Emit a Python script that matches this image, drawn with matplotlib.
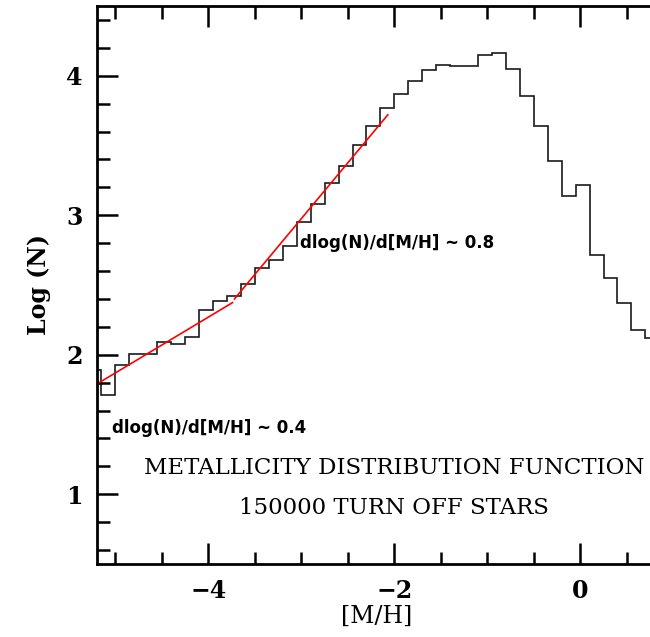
import numpy as np
import matplotlib.pyplot as plt
from matplotlib.ticker import MultipleLocator, FixedLocator

# Histogram bins in [M/H] (width 0.15 dex) and log of star counts per bin
bin_start = -5.3
bin_width = 0.15
log_n = [1.89, 1.71, 1.93, 2.005, 2.005, 2.09, 2.08, 2.13, 2.32, 2.385,
         2.42, 2.51, 2.62, 2.68, 2.78, 2.95, 3.08, 3.23, 3.35, 3.50,
         3.64, 3.77, 3.87, 3.96, 4.04, 4.08, 4.07, 4.07, 4.15, 4.16,
         4.05, 3.855, 3.64, 3.39, 3.14, 3.22, 2.715, 2.55, 2.37, 2.18,
         2.12]

# Linear fits: (x start, x end, intercept, slope)
fit_low = (-5.2, -3.74, 3.87, 0.4)
fit_high = (-3.72, -2.07, 5.376, 0.8)

edges = bin_start + bin_width * np.arange(len(log_n) + 1)

fig = plt.figure(figsize=(6.5, 6.37), dpi=100)
ax = fig.add_axes([0.149, 0.1146, 0.861, 0.876])

ax.stairs(log_n, edges, baseline=None, color='#1a1a1a', linewidth=1.2)

for x0, x1, a, b in (fit_low, fit_high):
    xs = np.array([x0, x1])
    ax.plot(xs, a + b * xs, color='red', linewidth=1.2)

ax.set_xlim(-5.2, 0.82)
ax.set_ylim(0.5, 4.5)

ax.xaxis.set_major_locator(FixedLocator([-4, -2, 0]))
ax.xaxis.set_minor_locator(MultipleLocator(0.5))
ax.yaxis.set_major_locator(MultipleLocator(1))
ax.yaxis.set_minor_locator(MultipleLocator(0.2))
ax.tick_params(which='both', direction='in', top=True, right=False, width=1.8)
ax.tick_params(which='major', length=15, labelsize=17)
ax.tick_params(which='minor', length=9)
ax.xaxis.set_tick_params(pad=11)
ax.yaxis.set_tick_params(pad=10)
ax.spines['right'].set_visible(False)
for s in ('left', 'bottom', 'top'):
    ax.spines[s].set_linewidth(2)

for lab in ax.get_xticklabels() + ax.get_yticklabels():
    lab.set_fontfamily('DejaVu Serif')
    lab.set_fontweight('bold')

ax.set_xlabel('[M/H]', fontsize=17, family='DejaVu Serif', labelpad=1)
ax.set_ylabel('Log (N)', fontsize=17, family='DejaVu Serif', fontweight='bold',
              labelpad=11)

ax.text(-3.02, 2.80, 'dlog(N)/d[M/H] ~ 0.8', fontsize=12, fontweight='bold',
        va='center')
ax.text(-5.04, 1.475, 'dlog(N)/d[M/H] ~ 0.4', fontsize=12, fontweight='bold',
        va='center')
ax.text(-2.0, 1.188, 'METALLICITY DISTRIBUTION FUNCTION', fontsize=16.5,
        family='DejaVu Serif', ha='center', va='center')
ax.text(-2.0, 0.90, '150000 TURN OFF STARS', fontsize=16.5,
        family='DejaVu Serif', ha='center', va='center')

fig.savefig('out.png', dpi=100)
